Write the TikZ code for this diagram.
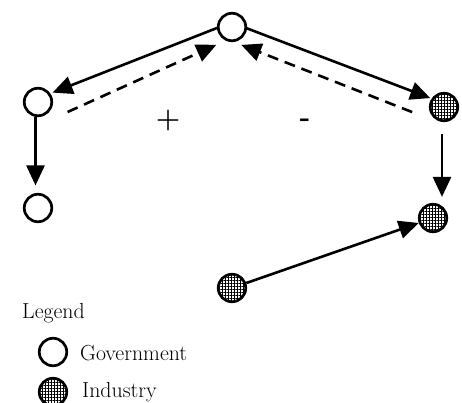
\documentclass[tikz,border=0pt]{standalone}
\usetikzlibrary{arrows.meta,calc,patterns.meta}
\begin{document}
\begin{tikzpicture}[x=1pt,y=1pt,
  actor/.style={circle, draw, line width=2.7pt, minimum size=27.5pt, inner sep=0pt},
  gov/.style={actor, fill=white},
  ind/.style={actor, preaction={fill=white},
    pattern={Hatch[angle=0,distance=3pt,line width=0.8pt]}},
  link/.style={line width=2.6pt, -{Triangle[length=20pt,width=18pt]}},
  back/.style={link, dash pattern=on 11pt off 7pt},
  lbl/.style={font=\fontsize{21.8}{26}\selectfont, inner sep=0pt},
  sign/.style={font=\fontsize{28}{32}\selectfont\bfseries, inner sep=0pt},
]
\useasboundingbox (0,0) rectangle (462,-403);

% actors
\node[gov] (T)  at (232,-27)  {};
\node[gov] (L1) at (38,-102)  {};
\node[gov] (L2) at (38,-208)  {};
\node[ind] (R1) at (444,-107) {};
\node[ind] (R2) at (433,-218) {};
\node[ind] (B)  at (232,-288) {};

% top actor to the two sides (solid) and the feedback paths (dashed)
\draw[link] ($(T)!13pt!(L1)!4.5pt!-90:(L1)$) -- ($(L1)!17pt!(T)!3.5pt!90:(T)$);
\draw[back] ($(L1)!24pt!(T)!20pt!-90:(T)$) -- ($(T)!21pt!(L1)!11pt!90:(L1)$);
\draw[link] ($(T)!13pt!(R1)!4pt!90:(R1)$) -- ($(R1)!16pt!(T)!3.5pt!-90:(T)$);
\draw[back] ($(R1)!28pt!(T)!16pt!90:(T)$) -- ($(T)!15pt!(R1)!13.5pt!-90:(R1)$);

% downward links
\draw[link] ([xshift=-2.5pt]L1.south) -- ($(L2.north)+(-2.5,7.5)$);
\draw[link] ($(R1.south)+(-2,-13)$) -- ($(R1.south |- R2.north)+(-2,6)$);
\draw[link] (B) -- (R2);

% signs
\node[sign] (plus)  at (168,-121) {+};
\node[sign] (minus) at (305,-123) {-};

% legend
\node[lbl, anchor=base west] (legtitle) at (22,-318) {Legend};
\node[gov] (kg) at (53,-352) {};
\node[lbl, anchor=base west] (kgt) at (80,-360) {Government};
\node[ind] (ki) at (53,-392) {};
\node[lbl, anchor=base west] (kit) at (82,-397) {Industry};
\end{tikzpicture}
\end{document}
